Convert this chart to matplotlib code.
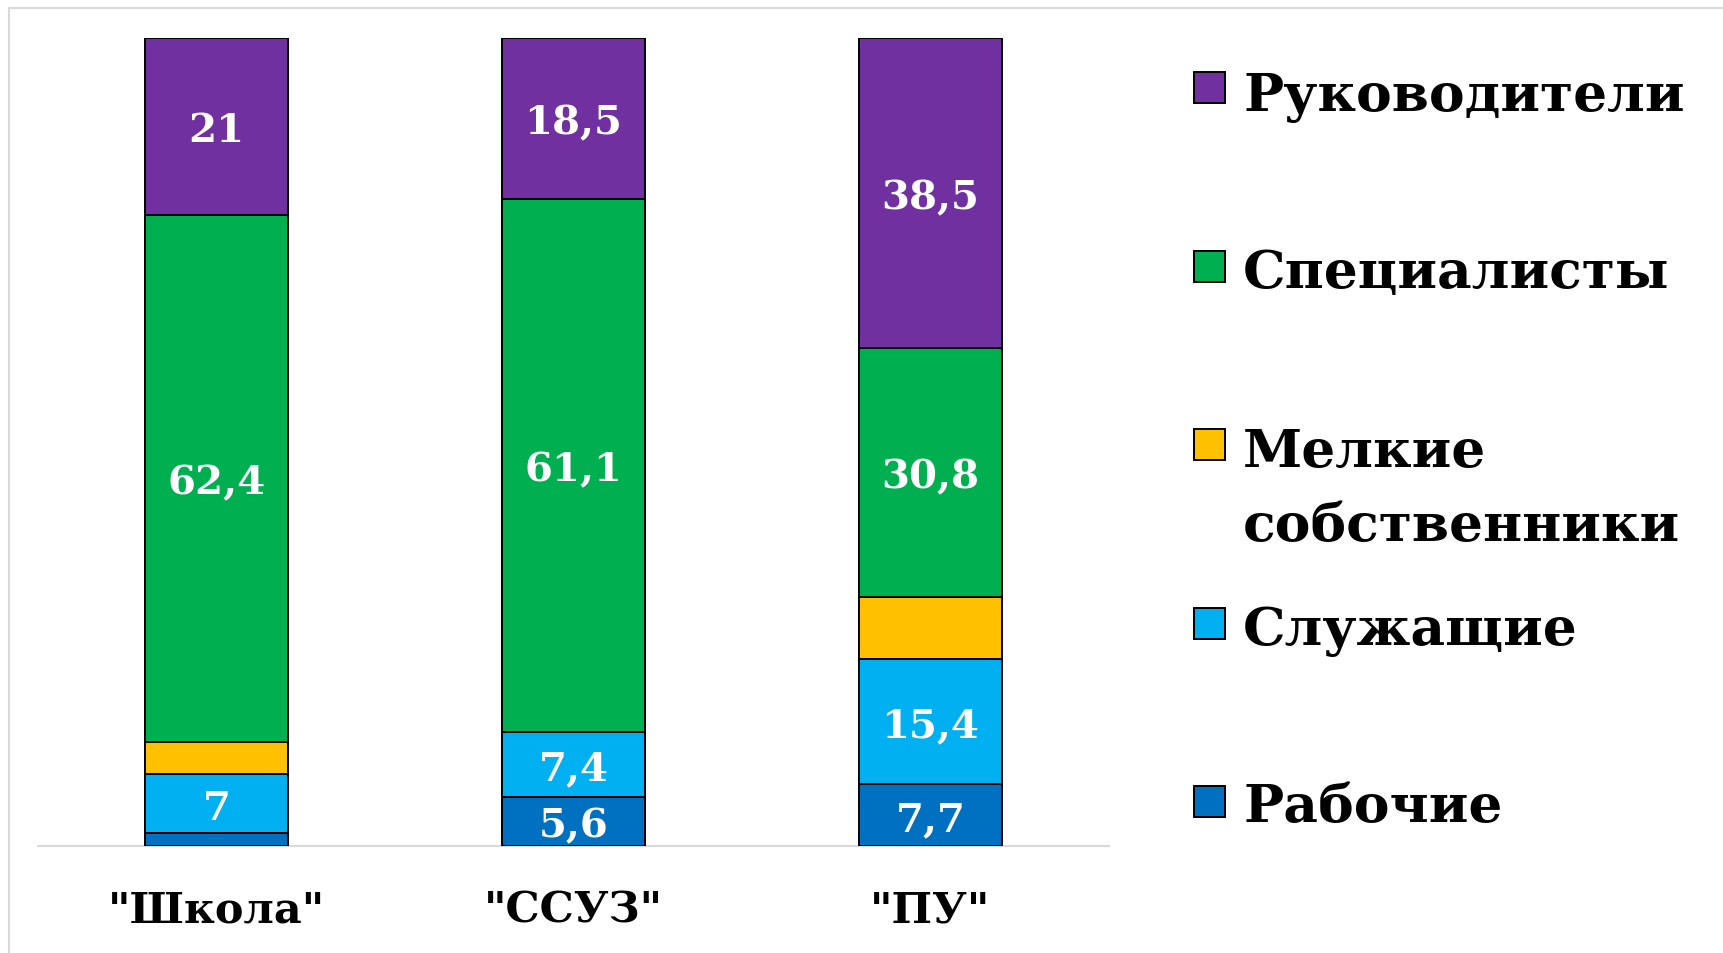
import numpy as np
import matplotlib
matplotlib.use("Agg")
import matplotlib.pyplot as plt
from matplotlib.patches import Rectangle
from matplotlib.transforms import blended_transform_factory

# ------------------------------------------------------------------
# donnees
# ------------------------------------------------------------------
categories = ['"Школа"', '"ССУЗ"', '"ПУ"']
series_names = ["Рабочие", "Служащие", "Мелкие собственники", "Специалисты", "Руководители"]
legend_labels = ["Рабочие", "Служащие", "Мелкие\nсобственники", "Специалисты", "Руководители"]

rabochie      = [1.5, 5.6, 7.7]
sluzhashchie  = [7.0, 7.4, 15.4]
melkie        = [3.8, 0.0, 7.7]
spetsialisty  = [62.4, 61.1, 30.8]
rukovoditeli  = [21.0, 18.5, 38.5]

colors = ["#0070C0", "#00B0F0", "#FFC000", "#00B050", "#7030A0"]

W, H = 1723, 954
plt.rcParams["font.family"] = ["DejaVu Serif"]
plt.rcParams["font.weight"] = "bold"

fig = plt.figure(figsize=(W / 100, H / 100), dpi=100)
fig.patch.set_facecolor("white")

def fx(px):
    return px / W

def fy(py):
    return 1 - py / H

ax = fig.add_axes([fx(38), fy(847), fx(1109) - fx(38), fy(38.5) - fy(847)])
ax.set_xlim(-0.5, 2.5)
ax.set_ylim(0, 1)

data = np.array([rabochie, sluzhashchie, melkie, spetsialisty, rukovoditeli])
totals = data.sum(axis=0)
shares = data / totals

x = np.arange(len(categories))
bottom = np.zeros(len(categories))
for i, name in enumerate(series_names):
    ax.bar(x, shares[i], 0.4, bottom=bottom, color=colors[i],
           edgecolor="black", linewidth=1.4, label=name, zorder=3)
    for j in range(len(categories)):
        val = data[i, j]
        # pas d'etiquette pour les petits segments et pour "Мелкие"
        if name.startswith("Мелкие") or val < 2:
            continue
        txt = f"{val:g}".replace(".", ",")
        ax.annotate(txt, (x[j], bottom[j] + shares[i, j] / 2),
                    xytext=(0, -10.8), textcoords="offset points",
                    ha="center", va="baseline", color="white",
                    fontsize=29, fontweight="bold")
    bottom += shares[i]

for s in ["top", "left", "right"]:
    ax.spines[s].set_visible(False)
ax.spines["bottom"].set_color("#D9D9D9")
ax.spines["bottom"].set_linewidth(1.5)
ax.spines["bottom"].set_zorder(2)
ax.set_yticks([])
ax.set_xticks([])

# etiquettes des categories
trans = blended_transform_factory(ax.transData, fig.transFigure)
for j, c in enumerate(categories):
    ax.text(x[j], fy(923), c, transform=trans, ha="center", va="baseline",
            fontsize=31, fontweight="bold", color="black")

# legende manuelle
row_y = [802, 624, 445, 267, 88]
baselines = [822, 645, 467, 288, 111]
for i in range(len(series_names)):
    sq = 31
    fig.add_artist(Rectangle((fx(1194), fy(row_y[i] + sq / 2)), fx(sq), sq / H,
                             transform=fig.transFigure, facecolor=colors[i],
                             edgecolor="black", linewidth=1.4))
    lines = legend_labels[i].split("\n")
    for k, line in enumerate(lines):
        fig.text(fx(1243), fy(baselines[i] + k * 74), line, ha="left", va="baseline",
                 fontsize=38.5, fontweight="bold", color="black")

# cadre gris
fig.add_artist(Rectangle((fx(9), -0.5), 2, fy(9) + 0.5, transform=fig.transFigure,
                         fill=False, edgecolor="#D9D9D9", linewidth=1.5))

plt.savefig("out.png", dpi=100)
plt.close()
